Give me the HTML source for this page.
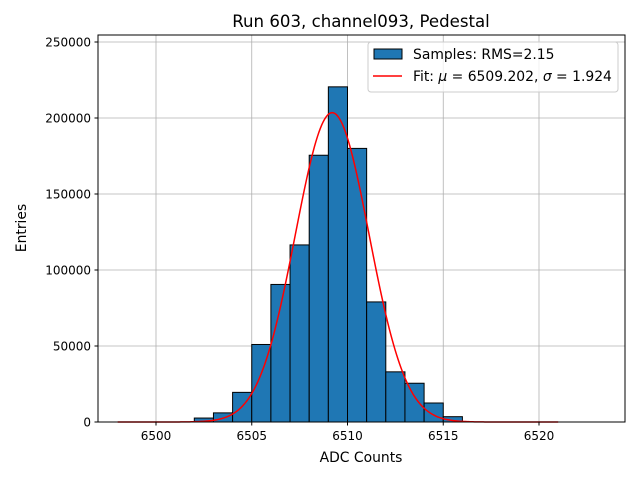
<!DOCTYPE html>
<html><head><meta charset="utf-8"><style>
body{margin:0;background:#fff;}
svg text{font-family:"DejaVu Sans","Liberation Sans",sans-serif;}
</style></head><body>
<svg id="chart" width="640" height="480" xmlns="http://www.w3.org/2000/svg">
<rect width="640" height="480" fill="#fff"/>
<g id="grid"></g>
<g id="bars"></g>
<path id="fit" fill="none" stroke="#ff0000" stroke-width="1.5"/>
<rect x="98" y="35" width="527" height="387" fill="none" stroke="#000" stroke-width="1"/>
<g id="ticks"></g>
<text x="361" y="27" text-anchor="middle" font-size="16.6">Run 603, channel093, Pedestal</text>
<text x="361" y="462" text-anchor="middle" font-size="13.9">ADC Counts</text>
<text transform="translate(26,228) rotate(-90)" text-anchor="middle" font-size="13.9">Entries</text>
<g>
<rect x="368" y="42" width="250" height="50" rx="3" fill="#fff" fill-opacity="0.8" stroke="#ccc"/>
<rect x="374" y="49" width="28" height="10" fill="#1f77b4" stroke="#000"/>
<text x="413" y="59" font-size="13.9">Samples: RMS=2.15</text>
<line x1="373" y1="76" x2="402" y2="76" stroke="#ff0000" stroke-width="1.5"/>
<text x="413" y="81" font-size="13.9">Fit: <tspan font-style="italic">μ</tspan> = 6509.202, <tspan font-style="italic">σ</tspan> = 1.924</text>
</g>
</svg>
<script>
const binEdges=[6502,6503,6504,6505,6506,6507,6508,6509,6510,6511,6512,6513,6514,6515];
const counts=[2600,6000,19500,51000,90500,116500,175500,220500,180000,79000,33000,25500,12500,3500];
const xTicks=[6500,6505,6510,6515,6520];
const yTicks=[0,50000,100000,150000,200000,250000];
const fitMu=6509.202, fitSigma=1.924, fitAmp=203500, fitMin=6498, fitMax=6521;
const NS='http://www.w3.org/2000/svg';
function xs(v){return 156+(v-6500)*19.15;}
function ys(v){return 422-v*76/50000;}
function mk(t,a,p){const e=document.createElementNS(NS,t);for(const k in a)e.setAttribute(k,a[k]);p.appendChild(e);return e;}
const grid=document.getElementById('grid'),ticks=document.getElementById('ticks'),bars=document.getElementById('bars');
xTicks.forEach(v=>{const x=xs(v);
 const g=mk('line',{x1:x,x2:x,y1:35,y2:422,stroke:'#b0b0b0','stroke-width':0.8},grid);
 
 
 mk('line',{x1:x,x2:x,y1:422,y2:425.5,stroke:'#000'},ticks);
 const t=mk('text',{x:x,y:440,'text-anchor':'middle','font-size':12},ticks);t.textContent=v;
 
 });
yTicks.forEach(v=>{const y=ys(v);
 const g=mk('line',{x1:98,x2:625,y1:y,y2:y,stroke:'#b0b0b0','stroke-width':0.8},grid);
 
 
 mk('line',{x1:94.5,x2:98,y1:y,y2:y,stroke:'#000'},ticks);
 const t=mk('text',{x:91,y:y+4.5,'text-anchor':'end','font-size':12},ticks);t.textContent=v;
 
 });
binEdges.forEach((b,i)=>{const x0=xs(b),x1=xs(b+1),y=ys(counts[i]);
 const r=mk('rect',{x:x0,y:y,width:x1-x0,height:422-y,fill:'#1f77b4',stroke:'#000','stroke-width':1},bars);
 
 });
let d='';for(let i=0;i<=300;i++){const v=fitMin+(fitMax-fitMin)*i/300;
 const c=fitAmp*Math.exp(-0.5*((v-fitMu)/fitSigma)**2);
 d+=(i?'L':'M')+xs(v).toFixed(2)+','+ys(c).toFixed(2);}
document.getElementById('fit').setAttribute('d',d);
</script>
</body></html>
